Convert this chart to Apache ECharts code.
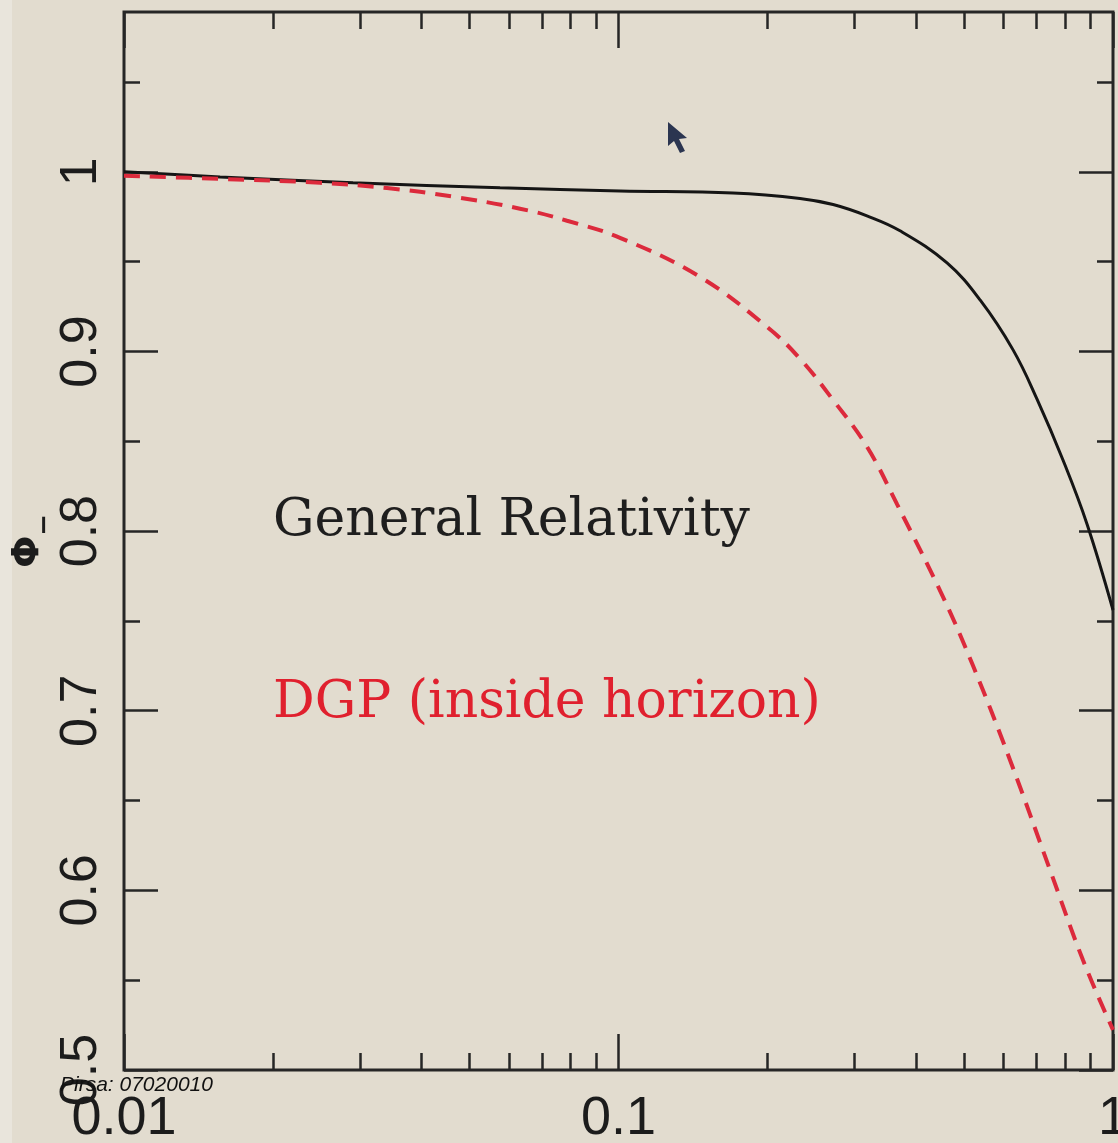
<!DOCTYPE html>
<html>
<head>
<meta charset="utf-8">
<script src="https://cdn.jsdelivr.net/npm/echarts@6/dist/echarts.min.js"></script>
<style>
html,body{margin:0;padding:0;background:#e2dccf;}
#chart{width:1118px;height:1143px;}
</style>
</head>
<body>
<div id="chart"></div>
<script>
// ---- data ----
const kGR   = [0.01, 0.01564, 0.02905, 0.0576, 0.1007, 0.1704, 0.2328, 0.2716, 0.318, 0.3709, 0.4617, 0.5385, 0.6279, 0.702, 0.7922, 0.8859, 1.0];
const phiGR = [1.000, 0.9972, 0.9939, 0.9911, 0.9894, 0.9882, 0.9852, 0.9818, 0.9755, 0.9672, 0.9493, 0.9287, 0.9009, 0.8735, 0.8396, 0.8040, 0.7561];

const kDGP   = [0.01, 0.01564, 0.02491, 0.03403, 0.04628, 0.06321, 0.07869, 0.1007, 0.1462, 0.1997, 0.2328, 0.2716, 0.318, 0.3658, 0.4531, 0.5212, 0.619, 0.7458, 0.8695, 1.0];
const phiDGP = [0.9978, 0.9961, 0.9939, 0.9910, 0.9862, 0.9795, 0.9728, 0.9633, 0.9415, 0.9137, 0.8960, 0.8730, 0.8470, 0.8150, 0.7634, 0.7250, 0.6726, 0.6114, 0.5612, 0.5223];

const xMajorTicks = [0.01, 0.1, 1];
const xTickLabels = ['0.01', '0.1', '1'];
const xMinorTicks = [0.02,0.03,0.04,0.05,0.06,0.07,0.08,0.09,0.2,0.3,0.4,0.5,0.6,0.7,0.8,0.9];
const yMajorTicks = [0.5, 0.6, 0.7, 0.8, 0.9, 1.0];
const yTickLabels = ['0.5', '0.6', '0.7', '0.8', '0.9', '1'];
const yMinorTicks = [0.55, 0.65, 0.75, 0.85, 0.95, 1.05];

const xMin = 0.01, xMax = 1, yMin = 0.5, yMax = 1.089;
const labelGR = 'General Relativity';
const labelDGP = 'DGP (inside horizon)';
const footer = 'Pirsa: 07020010';

// ---- chart ----
const AX = '#262626';
function lookup(ticks, labels) {
  return function (v) {
    for (let i = 0; i < ticks.length; i++) {
      if (Math.abs(ticks[i] - v) < 1e-9 * Math.max(1, Math.abs(v)) + 1e-9) return labels[i];
    }
    return '';
  };
}
function xAxisDef(pos, ticks, len, showLabel) {
  return {
    type: 'log', logBase: 10, min: xMin, max: xMax, position: pos,
    axisLine: {show: false},
    splitLine: {show: false},
    axisTick: {show: true, inside: true, length: len, customValues: ticks,
               lineStyle: {color: AX, width: 2.5}},
    axisLabel: showLabel ? {show: true, customValues: xMajorTicks, margin: 22,
               formatter: lookup(xMajorTicks, xTickLabels),
               fontFamily: 'Liberation Sans', fontSize: 54, color: '#1c1c1c'} : {show: false}
  };
}
function yAxisDef(pos, ticks, len, showLabel) {
  const a = {
    type: 'value', min: yMin, max: yMax, position: pos,
    axisLine: {show: false},
    splitLine: {show: false},
    axisTick: {show: true, inside: true, length: len, customValues: ticks,
               lineStyle: {color: AX, width: 2.5}},
    axisLabel: showLabel ? {show: true, customValues: yMajorTicks, rotate: 90, margin: 16,
               formatter: lookup(yMajorTicks, yTickLabels),
               fontFamily: 'Liberation Sans', fontSize: 52, color: '#1c1c1c'} : {show: false}
  };
  if (showLabel) {
    a.name = '{a|Φ}{b|−}';
    a.nameLocation = 'middle';
    a.nameGap = 66;
    a.nameRotate = 90;
    a.nameMoveOverlap = false;
    a.nameTextStyle = {
      rich: {
        a: {fontFamily: 'DejaVu Sans', fontSize: 38, fontWeight: 'bold', color: '#1c1c1c', lineHeight: 60},
        b: {fontFamily: 'DejaVu Sans', fontSize: 26, fontWeight: 'bold', color: '#1c1c1c', verticalAlign: 'bottom', lineHeight: 28}
      }
    };
  }
  return a;
}

const chart = echarts.init(document.getElementById('chart'), null, {renderer: 'canvas'});
chart.setOption({
  backgroundColor: '#e2dccf',
  animation: false,
  grid: {left: 124, right: 5, top: 12, bottom: 73, show: true,
         containLabel: false, outerBoundsMode: 'none',
         borderColor: AX, borderWidth: 3, backgroundColor: 'transparent'},
  xAxis: [
    xAxisDef('bottom', xMajorTicks, 36, true),
    xAxisDef('bottom', xMinorTicks, 17, false),
    xAxisDef('top', xMajorTicks, 36, false),
    xAxisDef('top', xMinorTicks, 17, false)
  ],
  yAxis: [
    yAxisDef('left', yMajorTicks, 34, true),
    yAxisDef('left', yMinorTicks, 16, false),
    yAxisDef('right', yMajorTicks, 34, false),
    yAxisDef('right', yMinorTicks, 16, false)
  ],
  series: [
    {
      name: labelGR, type: 'line', xAxisIndex: 0, yAxisIndex: 0,
      data: kGR.map((k, i) => [k, phiGR[i]]),
      showSymbol: false, smooth: 0.4,
      lineStyle: {color: '#151515', width: 3}
    },
    {
      name: labelDGP, type: 'line', xAxisIndex: 0, yAxisIndex: 0,
      data: kDGP.map((k, i) => [k, phiDGP[i]]),
      showSymbol: false, smooth: 0.4,
      lineStyle: {color: '#dc2a3c', width: 4, type: [16, 10]}
    }
  ],
  graphic: [
    {type: 'rect', left: 0, top: 0, shape: {width: 12, height: 1143}, style: {fill: '#e9e5dc'}, z: -1, silent: true},
    {type: 'text', left: 273, top: 495, style: {text: labelGR, font: '52px "DejaVu Serif"', fill: '#1e1e1e'}},
    {type: 'text', left: 273, top: 677, style: {text: labelDGP, font: '52px "DejaVu Serif"', fill: '#e0202e'}},
    {type: 'text', left: 60, top: 1075, zlevel: 2, style: {text: footer, font: 'italic 21px "Liberation Sans"', fill: '#111'}, z: 100},
    {type: 'polygon', zlevel: 2, shape: {points: [[668,122],[668,146],[674,141],[680,153],[685,151],[679,139],[687,138]]},
     style: {fill: '#2b3550'}, z: 100}
  ]
});
</script>
</body>
</html>
